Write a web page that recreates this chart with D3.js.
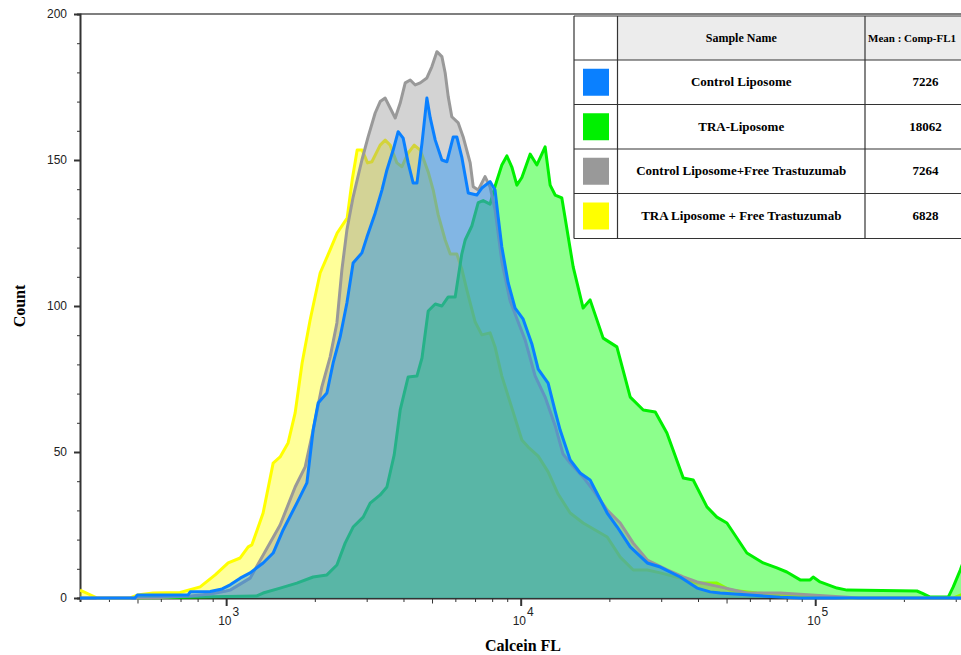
<!DOCTYPE html>
<html>
<head>
<meta charset="utf-8">
<script src="https://cdn.jsdelivr.net/npm/d3@7"></script>
<style>
  html, body { margin: 0; padding: 0; background: #fff; }
  svg { display: block; }
</style>
</head>
<body>
<div id="chart"></div>
<script>
// Histogram points: [Calcein FL, count]
const traFreeTrastuzumab = [[319,2.7],[365,0],[472,0],[499,1.0],[565,1.7],[698,1.9],[816,3.8],[918,7.9],[1016,12],[1116,13.7],[1188,17.5],[1223,18.2],[1335,29.1],[1444,46.2],[1525,48.3],[1623,53.1],[1715,63.4],[1811,80.5],[1928,95.2],[2085,111.3],[2254,119.2],[2382,125],[2575,130.1],[2679,143.2],[2785,153.4],[2897,153.4],[3020,149],[3125,149.4],[3334,155.1],[3467,156.8],[3605,155.1],[3800,149],[3952,147.7],[4150,152.4],[4350,155.1],[4560,153.4],[4853,145.9],[5047,139.7],[5248,131.2],[5542,122.6],[5765,117.8],[6070,117.8],[6310,112.7],[6562,105.5],[7006,94.5],[7380,90.1],[7870,90.8],[8184,86],[8630,76],[9333,65.1],[10092,54.1],[10605,51.7],[11468,48.6],[12392,43.2],[13397,35.6],[14723,29.1],[16295,25.7],[19667,20.9],[21777,14],[24110,9.6],[26900,9.6],[29785,8.6],[34793,6.8],[39720,5.1],[46350,5.1],[51420,2.7],[63380,1.7],[77840,1.0],[103900,0.3],[131500,0],[295000,0],[330000,2]]

const traLiposome = [[499,0],[1271,0.7],[1335,1.7],[1525,3.4],[1738,5.1],[1974,7.2],[2198,7.9],[2377,11.3],[2535,18.8],[2698,24.3],[2919,27.7],[3083,32.5],[3334,35.3],[3514,38],[3720,49],[3899,64.4],[4150,75.7],[4444,76],[4623,82.2],[4853,98.3],[5128,100.7],[5401,100],[5675,103.1],[5993,103.1],[6310,117.8],[6479,122.6],[6825,127.4],[7174,135.4],[7459,136.1],[7870,134.9],[8184,141],[8630,148.3],[8974,151.4],[9333,147.6],[9706,141.4],[10092,144],[10767,152],[11351,148.3],[12106,154.5],[12590,141.4],[13092,138],[13794,137],[15073,113.4],[16295,99.3],[17206,102.1],[19055,89],[21215,86],[23550,68.8],[26071,64.4],[28638,63.7],[31363,56.5],[35645,41.1],[38530,40.4],[42890,31.2],[46350,27.7],[50140,25.7],[58610,15.4],[66600,12],[74100,10.3],[80100,8.9],[88900,6.2],[96100,6.2],[98400,7.2],[103900,5.5],[118500,3.4],[128200,2.7],[221400,2.4],[230300,1.7],[245700,0.3],[282900,0.3],[294200,3.8],[310800,9.6],[349400,23]]

const controlFreeTrastuzumab = [[319,0],[552,0],[755,0.7],[883,1.4],[1000,2.4],[1032,2.7],[1206,6.8],[1525,25],[1715,38],[1855,44.9],[1974,57.5],[2113,72.3],[2254,82.5],[2377,94.2],[2471,112.3],[2570,126],[2698,137.3],[2890,150],[3034,157.9],[3206,166.1],[3334,170],[3467,171.2],[3605,167.8],[3750,164.4],[3899,169.5],[4055,176.4],[4217,177.4],[4385,175.7],[4560,176.4],[4803,178.1],[4995,182],[5194,187.1],[5401,185.4],[5542,179.8],[5675,171.7],[5836,164.8],[6138,162.7],[6379,157.9],[6738,149],[6902,140.8],[7174,139.7],[7568,144.3],[7870,140.8],[8184,133],[8630,115.3],[9204,101.8],[9806,94.5],[10351,88.4],[11194,76.1],[12106,68.8],[13092,59],[13929,49.3],[14723,46.2],[16295,41.4],[17617,37],[19667,30.1],[21777,25.7],[24110,18.8],[26900,13],[31446,9.6],[35645,7.2],[39720,5.5],[47580,3.8],[58740,1.7],[76040,1.7],[128500,0.3],[140000,0],[424000,0]]

const controlLiposome = [[319,0],[490,0],[499,1],[742,1],[755,2.1],[883,2.2],[969,3.1],[1032,4.5],[1116,6.8],[1206,8.6],[1335,12],[1444,15.4],[1561,23.3],[1738,32.5],[1880,39.4],[1974,57.5],[2053,66.8],[2198,70.2],[2308,80.5],[2438,89.4],[2570,101],[2698,114.7],[2890,118.2],[3006,123.6],[3206,131.8],[3380,139.7],[3514,146.6],[3690,153.4],[3837,159.7],[3990,157.5],[4150,149],[4315,142.1],[4444,142.1],[4623,155.8],[4803,171.2],[4931,164.4],[5128,156.8],[5401,150],[5615,149.4],[5902,157.9],[6070,157.9],[6310,151],[6637,138.7],[7096,138],[7380,140.4],[7870,142.6],[8184,139.7],[8386,130.5],[8630,120.2],[9071,107.9],[9574,99.3],[10196,95.5],[10914,87],[11468,78.4],[12392,73.6],[13092,64],[13614,57.5],[14723,47.3],[15917,42.8],[17206,40.4],[19667,29.1],[21275,24.3],[23550,17.5],[26900,12],[29785,10.6],[34793,7.2],[39720,3.4],[44000,2.1],[47580,1.7],[76040,0.3],[88900,0],[424000,0]]

// legend table rows
const sampleNames = ["Control Liposome", "TRA-Liposome", "Control Liposome+Free Trastuzumab", "TRA Liposome + Free Trastuzumab"]
const sampleMeans = ["7226", "18062", "7264", "6828"]
const sampleColors = ["#0a80ff", "#00f000", "#999999", "#ffff00"]

const yTicks = [0, 50, 100, 150, 200]
const xDecades = [1e3, 1e4, 1e5]

const width = 961
const height = 655

const svg = d3.select("#chart").append("svg")
  .attr("width", width)
  .attr("height", height)

const x = d3.scaleLog().domain([319, 424000]).range([80, 1000])
const y = d3.scaleLinear().domain([0, 200]).range([598, 14])

svg.append("defs").append("clipPath").attr("id", "plotClip")
  .append("rect").attr("x", 80).attr("y", 0).attr("width", 920).attr("height", 600)

// frame top
svg.append("line")
  .attr("x1", 80).attr("x2", width).attr("y1", 14).attr("y2", 14)
  .attr("stroke", "#555").attr("stroke-width", 1.5)

// y axis
const yMinor = d3.range(0, 201, 10)
const yAxis = svg.append("g").attr("transform", "translate(80,0)")
  .call(d3.axisLeft(y).tickValues(yMinor).tickSize(3).tickFormat(""))
yAxis.select(".domain").attr("stroke", "#333").attr("stroke-width", 2)
yAxis.selectAll(".tick line")
  .attr("stroke", "#333")
  .attr("x2", d => yTicks.includes(d) ? -6 : -3)
  .attr("stroke-width", d => yTicks.includes(d) ? 2 : 1)
yAxis.selectAll(".tick text").remove()
svg.append("g").selectAll("text").data(yTicks).join("text")
  .attr("x", 67)
  .attr("y", d => y(d) + 4)
  .attr("text-anchor", "end")
  .attr("font-family", "Liberation Sans, Arial, sans-serif")
  .attr("font-size", 12)
  .attr("fill", "#222")
  .text(d => d)

// x axis (drawn before the histograms, so the baseline strokes sit on it)
const xMinor = []
;[100, 1000, 10000, 100000].forEach(base => {
  for (let k = 1; k < 10; k++) xMinor.push(base * k)
})
const xTickVals = xMinor.filter(v => v >= 319 && v <= 424000)
const xAxis = svg.append("g").attr("transform", "translate(0,598)")
  .call(d3.axisBottom(x).tickValues(xTickVals).tickSize(4).tickFormat(""))
xAxis.select(".domain").attr("stroke", "#333").attr("stroke-width", 2)
xAxis.selectAll(".tick line")
  .attr("stroke", "#333")
  .attr("y2", d => xDecades.includes(d) ? 8 : (String(d)[0] === "5" ? 5.5 : 4))
  .attr("stroke-width", d => xDecades.includes(d) ? 2 : 1)

const xLabels = svg.append("g").selectAll("text").data(xDecades).join("text")
  .attr("x", d => x(d) - 8)
  .attr("y", 625)
  .attr("font-family", "Liberation Sans, Arial, sans-serif")
  .attr("font-size", 12)
  .attr("fill", "#222")
xLabels.append("tspan").text("10")
xLabels.append("tspan").attr("dy", -9).attr("dx", 1).attr("font-size", 12).text(d => Math.round(Math.log10(d)))

// histograms, drawn bottom to top
const layers = [
  { data: traFreeTrastuzumab, color: sampleColors[3], fill: "#ffff00", opacity: 0.4 },
  { data: traLiposome, color: sampleColors[1], fill: "#00ff00", opacity: 0.45 },
  { data: controlFreeTrastuzumab, color: sampleColors[2], fill: "#929292", opacity: 0.4 },
  { data: controlLiposome, color: sampleColors[0], fill: "#0a8cff", opacity: 0.4 }
]

const area = d3.area().x(d => x(d[0])).y0(y(0)).y1(d => y(d[1]))
const line = d3.line().x(d => x(d[0])).y(d => y(d[1]))

const plot = svg.append("g").attr("clip-path", "url(#plotClip)")
layers.forEach(layer => {
  plot.append("path")
    .attr("d", area(layer.data))
    .attr("fill", layer.fill)
    .attr("fill-opacity", layer.opacity)
  plot.append("path")
    .attr("d", line(layer.data))
    .attr("fill", "none")
    .attr("stroke", layer.color)
    .attr("stroke-width", 3)
    .attr("stroke-linejoin", "round")
})

// axis titles
svg.append("text")
  .attr("x", 523).attr("y", 651)
  .attr("text-anchor", "middle")
  .attr("font-family", "Liberation Serif, Times New Roman, serif")
  .attr("font-weight", "bold")
  .attr("font-size", 16)
  .text("Calcein FL")

svg.append("text")
  .attr("transform", "translate(25,306) rotate(-90)")
  .attr("text-anchor", "middle")
  .attr("font-family", "Liberation Serif, Times New Roman, serif")
  .attr("font-weight", "bold")
  .attr("font-size", 16)
  .text("Count")

// legend table
const colX = [574, 617.5, 865, 986]
const rowY = [16, 60, 104.5, 149, 193.5, 238.5]
const table = svg.append("g")

table.append("rect")
  .attr("x", colX[0]).attr("y", rowY[0])
  .attr("width", colX[3] - colX[0]).attr("height", rowY[5] - rowY[0])
  .attr("fill", "#fff")
table.append("rect")
  .attr("x", colX[1]).attr("y", rowY[0])
  .attr("width", colX[3] - colX[1]).attr("height", rowY[1] - rowY[0])
  .attr("fill", "#ececec")

rowY.forEach(ry => {
  table.append("line")
    .attr("x1", colX[0]).attr("x2", colX[3]).attr("y1", ry).attr("y2", ry)
    .attr("stroke", "#333").attr("stroke-width", 1.2)
})
colX.forEach(cx => {
  table.append("line")
    .attr("x1", cx).attr("x2", cx).attr("y1", rowY[0]).attr("y2", rowY[5])
    .attr("stroke", "#333").attr("stroke-width", 1.2)
})

const serif = "Liberation Serif, Times New Roman, serif"
const headY = (rowY[0] + rowY[1]) / 2
table.append("text")
  .attr("x", (colX[1] + colX[2]) / 2).attr("y", headY + 4)
  .attr("text-anchor", "middle").attr("font-family", serif)
  .attr("font-weight", "bold").attr("font-size", 12)
  .text("Sample Name")
table.append("text")
  .attr("x", colX[2] + 3).attr("y", headY + 4)
  .attr("font-family", serif)
  .attr("font-weight", "bold").attr("font-size", 11)
  .text("Mean : Comp-FL1")

sampleNames.forEach((name, i) => {
  const cy = (rowY[i + 1] + rowY[i + 2]) / 2
  table.append("rect")
    .attr("x", 583).attr("y", cy - 13.5)
    .attr("width", 26).attr("height", 27)
    .attr("fill", sampleColors[i])
  table.append("text")
    .attr("x", (colX[1] + colX[2]) / 2).attr("y", cy + 4)
    .attr("text-anchor", "middle").attr("font-family", serif)
    .attr("font-weight", "bold").attr("font-size", 13)
    .text(name)
  table.append("text")
    .attr("x", (colX[2] + colX[3]) / 2).attr("y", cy + 4)
    .attr("text-anchor", "middle").attr("font-family", serif)
    .attr("font-weight", "bold").attr("font-size", 13)
    .text(sampleMeans[i])
})
</script>
</body>
</html>
